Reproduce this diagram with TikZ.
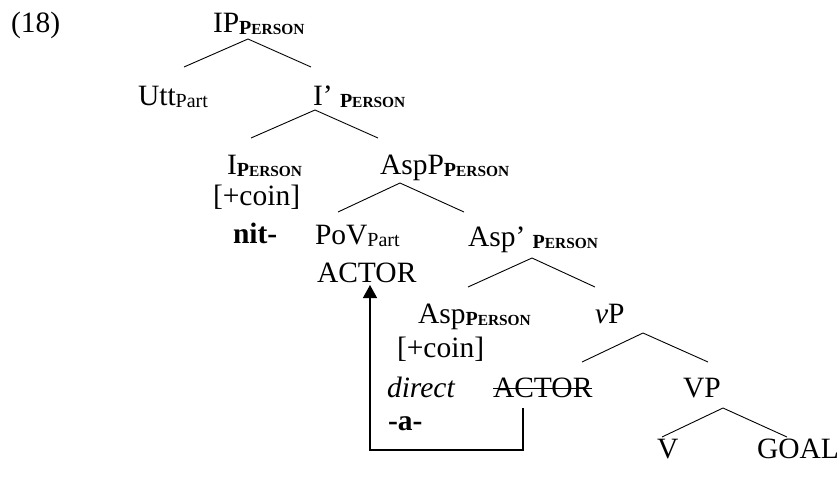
\documentclass[tikz,border=0pt]{standalone}
\usepackage{fontspec}
\setmainfont{Liberation Serif}
\usetikzlibrary{arrows.meta}

% small-caps style feature subscript and plain subscript
\newcommand{\featsub}{\raisebox{-2pt}{\fontsize{20}{20}\selectfont\bfseries P\fontsize{15.4}{15.4}\selectfont ERSON}}
\newcommand{\partsub}{\raisebox{-2.5pt}{\fontsize{20}{20}\selectfont Part}}

\begin{document}
\begin{tikzpicture}[x=1pt,y=-1pt,
  lbl/.style={anchor=base west,inner sep=0pt,outer sep=0pt,font=\fontsize{29.5}{29.5}\selectfont},
  branch/.style={line width=0.9pt},
  movearrow/.style={line width=1.4pt,-{Triangle[length=13pt,width=14pt]}}]
\useasboundingbox (0,0) rectangle (840,477);

% example number
\node[lbl] (num) at (11,32) {(18)};

% labels, placed by baseline
\node[lbl] (ip)     at (213,32)  {IP\featsub};
\node[lbl] (utt)    at (138,105) {Utt\partsub};
\node[lbl] (ibar)   at (313,105) {I’ \featsub};
\node[lbl] (ihead)  at (227,174) {I\featsub};
\node[lbl] (icoin)  at (213,205) {[+coin]};
\node[lbl] (nit)    at (233,243) {\bfseries nit-};
\node[lbl] (aspp)   at (380,174) {AspP\featsub};
\node[lbl] (pov)    at (315,244) {PoV\partsub};
\node[lbl] (actor)  at (317,282) {ACTOR};
\node[lbl] (aspbar) at (468,246) {Asp’ \featsub};
\node[lbl] (asp)    at (418,323) {Asp\featsub};
\node[lbl] (vp)     at (595,323) {\textit{v}P};
\node[lbl] (acoin)  at (397,357) {[+coin]};
\node[lbl] (direct) at (387,397) {\itshape direct};
\node[lbl] (trace)  at (493,397) {ACTOR};
\node[lbl] (amorph) at (388,430) {\bfseries -a-};
\node[lbl] (bigvp)  at (683,397) {VP};
\node[lbl] (v)      at (657,458) {V};
\node[lbl] (goal)   at (757,458) {GOAL};

% strike through the lower copy of ACTOR
\draw[line width=1pt] ([yshift=9pt]trace.base west) -- ([yshift=9pt]trace.base east);

% branch points
\coordinate (ip-t)  at (248,39);  \coordinate (ip-l)  at (184,67);  \coordinate (ip-r)  at (311,67);
\coordinate (ib-t)  at (315,110); \coordinate (ib-l)  at (251,138); \coordinate (ib-r)  at (378,138);
\coordinate (ap-t)  at (400,183); \coordinate (ap-l)  at (338,212); \coordinate (ap-r)  at (464,212);
\coordinate (ab-t)  at (532,258); \coordinate (ab-l)  at (468,287); \coordinate (ab-r)  at (595,287);
\coordinate (vp-t)  at (643,333); \coordinate (vp-l)  at (582,362); \coordinate (vp-r)  at (708,362);
\coordinate (VP-t)  at (723,408); \coordinate (VP-l)  at (662,437); \coordinate (VP-r)  at (787,437);

\draw[branch] (ip-l) -- (ip-t) -- (ip-r);
\draw[branch] (ib-l) -- (ib-t) -- (ib-r);
\draw[branch] (ap-l) -- (ap-t) -- (ap-r);
\draw[branch] (ab-l) -- (ab-t) -- (ab-r);
\draw[branch] (vp-l) -- (vp-t) -- (vp-r);
\draw[branch] (VP-l) -- (VP-t) -- (VP-r);

% movement of ACTOR to the PoV position
\coordinate (mv-start) at (523,408);
\coordinate (mv-corner) at (523,450);
\coordinate (mv-end) at (370,285);
\draw[movearrow] (mv-start) -- (mv-corner) -| (mv-end);
\end{tikzpicture}
\end{document}
